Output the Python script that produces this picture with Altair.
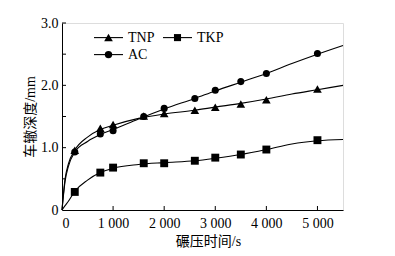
import altair as alt
import pandas as pd

# measured points
t_pts = [250, 750, 1000, 1600, 2000, 2600, 3000, 3500, 4000, 5000]
tnp_pts = [0.96, 1.31, 1.37, 1.51, 1.55, 1.60, 1.65, 1.70, 1.77, 1.94]
tkp_pts = [0.29, 0.60, 0.68, 0.75, 0.75, 0.79, 0.84, 0.89, 0.97, 1.12]
ac_pts = [0.93, 1.22, 1.27, 1.50, 1.63, 1.79, 1.92, 2.06, 2.19, 2.51]

# fitted curves
t_fit = [0, 60, 125, 250, 500, 750, 1000, 1500, 2000, 2600, 3000, 3500, 4000, 4500, 5000, 5500]
tnp_fit = [0, 0.50, 0.74, 0.96, 1.17, 1.29, 1.36, 1.47, 1.54, 1.60, 1.65, 1.71, 1.78, 1.86, 1.93, 2.00]
tkp_fit = [0, 0.07, 0.14, 0.30, 0.48, 0.60, 0.67, 0.73, 0.76, 0.79, 0.83, 0.89, 0.97, 1.06, 1.11, 1.13]
ac_fit = [0, 0.46, 0.70, 0.93, 1.10, 1.21, 1.29, 1.46, 1.62, 1.79, 1.91, 2.05, 2.19, 2.35, 2.50, 2.64]

series = ["TNP", "TKP", "AC"]
shapes = ["triangle-up", "square", "circle"]
x_ticks = [1000, 2000, 3000, 4000, 5000]
y_ticks = [0.5, 1.0, 1.5, 2.0, 2.5, 3.0]

pts = pd.DataFrame({
    "t": t_pts * 3,
    "d": tnp_pts + tkp_pts + ac_pts,
    "s": ["TNP"] * len(t_pts) + ["TKP"] * len(t_pts) + ["AC"] * len(t_pts),
})
fit = pd.DataFrame({
    "t": t_fit * 3,
    "d": tnp_fit + tkp_fit + ac_fit,
    "s": ["TNP"] * len(t_fit) + ["TKP"] * len(t_fit) + ["AC"] * len(t_fit),
})

W, H = 281, 187
FONT = "Liberation Serif, Noto Sans CJK SC"
FS = 14

xscale = alt.Scale(domain=[0, 5500], nice=False)
yscale = alt.Scale(domain=[0, 3.0], nice=False)

xaxis = alt.Axis(
    title="碾压时间/s", values=[0, 1000, 2000, 3000, 4000, 5000], tickSize=0,
    labelExpr="replace(format(datum.value, ','), ',', ' ')",
    grid=False, domainColor="black", labelColor="black", titleColor="black",
    labelFont=FONT, titleFont=FONT, labelFontSize=FS, titleFontSize=FS,
    titleFontWeight="normal", labelPadding=6, titlePadding=4, titleX=146,
)
yaxis = alt.Axis(
    title="车辙深度/mm", values=[0] + y_ticks, tickSize=0,
    labelExpr="datum.value == 0 ? '0' : format(datum.value, '.1f')",
    grid=False, domainColor="black", labelColor="black", titleColor="black",
    labelFont=FONT, titleFont=FONT, labelFontSize=FS, titleFontSize=FS,
    titleFontWeight="normal", labelPadding=4, titlePadding=3,
)

lines = alt.Chart(fit).mark_line(interpolate="monotone", color="black", strokeWidth=1.1).encode(
    x=alt.X("t:Q", scale=xscale, axis=xaxis),
    y=alt.Y("d:Q", scale=yscale, axis=yaxis),
    detail="s:N",
)

points = alt.Chart(pts).mark_point(filled=True, color="black", opacity=1).encode(
    x=alt.X("t:Q", scale=xscale),
    y=alt.Y("d:Q", scale=yscale),
    shape=alt.Shape("s:N", scale=alt.Scale(domain=series, range=shapes), legend=None),
    size=alt.Size("s:N", scale=alt.Scale(domain=series, range=[75, 50, 55]), legend=None),
)

xt = alt.Chart(pd.DataFrame({"v": x_ticks})).mark_rule(color="black", strokeWidth=1).encode(
    x=alt.X("v:Q", scale=xscale), y=alt.value(H), y2=alt.value(H - 4)
)
yt = alt.Chart(pd.DataFrame({"v": y_ticks})).mark_rule(color="black", strokeWidth=1).encode(
    y=alt.Y("v:Q", scale=yscale), x=alt.value(0), x2=alt.value(4)
)

one = pd.DataFrame({"a": [0]})
legend_layers = []
legend_pos = [(32, 14.6), (101, 14.6), (32, 31.6)]
legend_sizes = [75, 50, 55]
for name, shp, (lx, ly), sz in zip(series, shapes, legend_pos, legend_sizes):
    legend_layers.append(alt.Chart(one).mark_rule(color="black", strokeWidth=1.1).encode(
        x=alt.value(lx), x2=alt.value(lx + 29), y=alt.value(ly)))
    legend_layers.append(alt.Chart(one).mark_point(filled=True, color="black", opacity=1, shape=shp, size=sz).encode(
        x=alt.value(lx + 14.5), y=alt.value(ly)))
    legend_layers.append(alt.Chart(one).mark_text(text=name, font=FONT, fontSize=FS, align="left",
                                                  baseline="middle", color="black").encode(
        x=alt.value(lx + 34), y=alt.value(ly + 0.5)))

chart = alt.layer(lines, points, xt, yt, *legend_layers).properties(
    width=W, height=H,
    autosize=alt.AutoSizeParams(type="none"),
    padding={"left": 54, "top": 15, "right": 40, "bottom": 40},
).configure_view(stroke=None).configure(background="white")

chart.save("out.html", embed_options={"renderer": "svg", "actions": False})
